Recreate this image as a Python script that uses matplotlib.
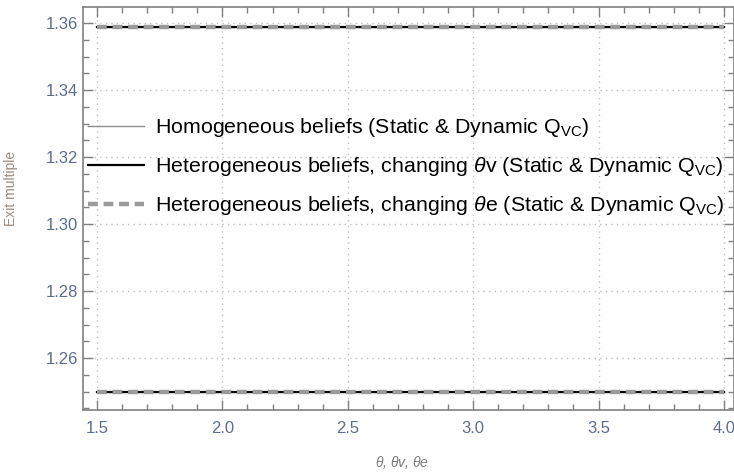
import numpy as np
import matplotlib.pyplot as plt
from matplotlib.ticker import MultipleLocator

# theta range and the resulting exit multiples (flat over theta)
theta = [1.5, 2.0, 2.5, 3.0, 3.5, 4.0]
homog_high = [1.3589] * len(theta)
homog_low = [1.2500] * len(theta)
het_v_high = [1.3589] * len(theta)
het_v_low = [1.2500] * len(theta)
het_e_high = [1.3589] * len(theta)
het_e_low = [1.2500] * len(theta)

labels = [
    r'Homogeneous beliefs (Static & Dynamic $\mathrm{Q}_{\mathrm{VC}}$)',
    r'Heterogeneous beliefs, changing $\theta$v (Static & Dynamic $\mathrm{Q}_{\mathrm{VC}}$)',
    r'Heterogeneous beliefs, changing $\theta$e (Static & Dynamic $\mathrm{Q}_{\mathrm{VC}}$)',
]

plt.rcParams['font.family'] = ['Liberation Sans', 'DejaVu Sans']
plt.rcParams['mathtext.fontset'] = 'custom'
plt.rcParams['mathtext.rm'] = 'Liberation Sans'
plt.rcParams['mathtext.it'] = 'Liberation Sans:italic'

fig = plt.figure(figsize=(7.34, 4.74), dpi=100)
ax = fig.add_axes([0.113, 0.135, 0.887, 0.85])

frame = '#808080'
tickc = '#5d6d8c'

l1, = ax.plot(theta, homog_high, color='#8c8c8c', lw=1.0)
ax.plot(theta, homog_low, color='#8c8c8c', lw=1.0)
l2, = ax.plot(theta, het_v_high, color='black', lw=1.6)
ax.plot(theta, het_v_low, color='black', lw=1.6)
l3, = ax.plot(theta, het_e_high, color='#9a9a9a', lw=3.2, dashes=(2.2, 1.3))
ax.plot(theta, het_e_low, color='#9a9a9a', lw=3.2, dashes=(2.2, 1.3))

ax.set_xlim(1.444, 4.04)
ax.set_ylim(1.2445, 1.3648)
ax.xaxis.set_major_locator(MultipleLocator(0.5))
ax.xaxis.set_minor_locator(MultipleLocator(0.1))
ax.yaxis.set_major_locator(MultipleLocator(0.02))
ax.yaxis.set_minor_locator(MultipleLocator(0.005))
ax.xaxis.set_major_formatter(lambda v, p: f'{v:.1f}')
ax.yaxis.set_major_formatter(lambda v, p: f'{v:.2f}')

ax.tick_params(which='both', direction='in', top=True, right=True,
               color=frame, labelcolor=tickc, labelsize=12)
ax.tick_params(which='major', length=7, width=1)
ax.tick_params(which='minor', length=4, width=1)
ax.tick_params(axis='x', pad=8)
for s in ax.spines.values():
    s.set_color(frame)
    s.set_linewidth(1.2)

ax.grid(True, which='major', color='#c0c0c0', ls=(0, (1, 3)), lw=1)

ax.set_ylabel('Exit multiple', color='#9a8c80', fontsize=10)
ax.yaxis.set_label_coords(-0.1, 0.55)
ax.set_xlabel(r'$\theta$, $\theta$v, $\theta$e', color='#7a7a7a', fontsize=10,
              style='italic', labelpad=10)
ax.xaxis.set_label_coords(0.49, -0.11)

ax.legend([l1, l2, l3], labels, loc='upper left', bbox_to_anchor=(-0.005, 0.75),
          frameon=False, fontsize=15.4, handlelength=2.6, handletextpad=0.5,
          labelspacing=0.75, borderaxespad=0)

fig.savefig('out.png', dpi=100)
